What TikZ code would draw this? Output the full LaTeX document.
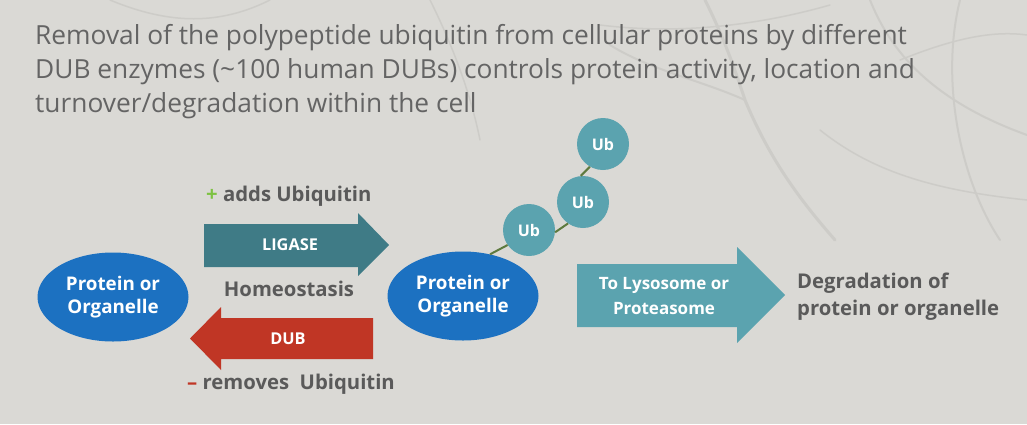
\documentclass[tikz,border=0pt]{standalone}
\usepackage{fontspec}
\setmainfont{Open Sans}
\usetikzlibrary{shapes.geometric}
\definecolor{bg}{HTML}{DAD9D5}
\definecolor{branch}{HTML}{CDCCC8}
\definecolor{titlegray}{HTML}{646464}
\definecolor{labelgray}{HTML}{5A5A5A}
\definecolor{protblue}{HTML}{1C71C1}
\definecolor{tealdark}{HTML}{3F7B86}
\definecolor{teallight}{HTML}{5BA3AF}
\definecolor{dubred}{HTML}{C03625}
\definecolor{plusgreen}{HTML}{7DC242}
\definecolor{chain}{HTML}{5E7A3E}
\tikzset{
  protein/.style={ellipse, fill=protblue, text=white, minimum width=151pt, minimum height=89pt, inner sep=0pt, align=center, font=\fontsize{18.8}{23}\selectfont\bfseries},
  ubnode/.style={circle, fill=teallight, text=white, minimum size=52pt, inner sep=0pt, font=\fontsize{16}{18}\selectfont\bfseries},
  arrowtext/.style={text=white, align=center, inner sep=0pt},
  graylabel/.style={text=labelgray, inner sep=0pt, font=\fontsize{20.3}{27}\selectfont\bfseries},
  chainline/.style={draw=chain, line width=2pt},
  branchline/.style={draw=branch, line cap=round}
}
\begin{document}
\begin{tikzpicture}[x=1pt, y=-1pt]
\fill[bg] (0,0) rectangle (1027,424);
\useasboundingbox (0,0) rectangle (1027,424);
% faint background branches
\draw[branchline, line width=3pt] (705,0) .. controls (725,40) and (735,70) .. (745,100) .. controls (770,160) and (800,200) .. (835,240);
\draw[branchline, line width=2pt] (745,100) .. controls (700,80) and (650,70) .. (610,45);
\draw[branchline, line width=2pt] (870,0) .. controls (890,50) and (930,100) .. (1027,135);
\draw[branchline, line width=1.5pt] (600,25) .. controls (680,35) and (760,25) .. (830,5);
\draw[branchline, line width=1.5pt] (900,60) .. controls (950,40) and (990,30) .. (1027,35);
\draw[branchline, line width=2pt] (960,0) .. controls (940,80) and (960,180) .. (1000,240);
\draw[branchline, line width=1.5pt] (110,0) .. controls (170,25) and (220,25) .. (270,0);
\draw[branchline, line width=1.5pt] (430,0) .. controls (450,40) and (470,90) .. (480,140);
\draw[branchline, line width=1.5pt] (820,130) .. controls (870,170) and (930,190) .. (1027,200);
% title
\node[anchor=base west, inner sep=0pt, text=titlegray, align=left, font=\fontsize{26.3}{34}\selectfont] (title) at (35,112)
  {Removal of the polypeptide ubiquitin from cellular proteins by different\\
   DUB enzymes (\textasciitilde100 human DUBs) controls protein activity, location and\\
   turnover/degradation within the cell};
% arrows (shapes)
\fill[tealdark] (204,224) -- (358,224) -- (358,213) -- (389,245) -- (358,276) -- (358,267) -- (204,267) -- cycle;
\fill[dubred] (373,318) -- (221,318) -- (221,307) -- (190,338.5) -- (221,370) -- (221,359) -- (373,359) -- cycle;
\fill[teallight] (577,264) -- (737,264) -- (737,247) -- (785,295) -- (737,343) -- (737,327) -- (577,327) -- cycle;
% nodes
\node[protein] (left) at (113,297) {Protein or\\Organelle};
\node[protein] (mid) at (463,296) {Protein or\\Organelle};
\node[ubnode] (ub1) at (529,230) {Ub};
\node[ubnode] (ub2) at (583,202) {Ub};
\node[ubnode] (ub3) at (603,144) {Ub};
% connectors of the ubiquitin chain
\draw[chainline] (mid.57) -- (ub1.215);
\draw[chainline] (ub1.-5) -- (ub2.235);
\draw[chainline] (ub2.95) -- (ub3.240);
% arrow texts
\node[arrowtext, font=\fontsize{16.3}{18}\selectfont\bfseries] (ligase) at (290,245) {LIGASE};
\node[arrowtext, font=\fontsize{16.3}{18}\selectfont\bfseries] (dub) at (288,339) {DUB};
\node[arrowtext, font=\fontsize{17}{25}\selectfont\bfseries] (lyso) at (664,296) {To Lysosome or\\Proteasome};
% labels
\node[graylabel, anchor=west] (adds) at (206,196) {{\color{plusgreen}+} adds Ubiquitin};
\node[graylabel] (homeo) at (289,289) {Homeostasis};
\node[graylabel, anchor=west] (removes) at (187,384) {{\color{dubred}–} removes\ \ Ubiquitin};
\node[graylabel, anchor=west, align=left] (degr) at (797,297) {Degradation of\\protein or organelle};
\end{tikzpicture}
\end{document}
